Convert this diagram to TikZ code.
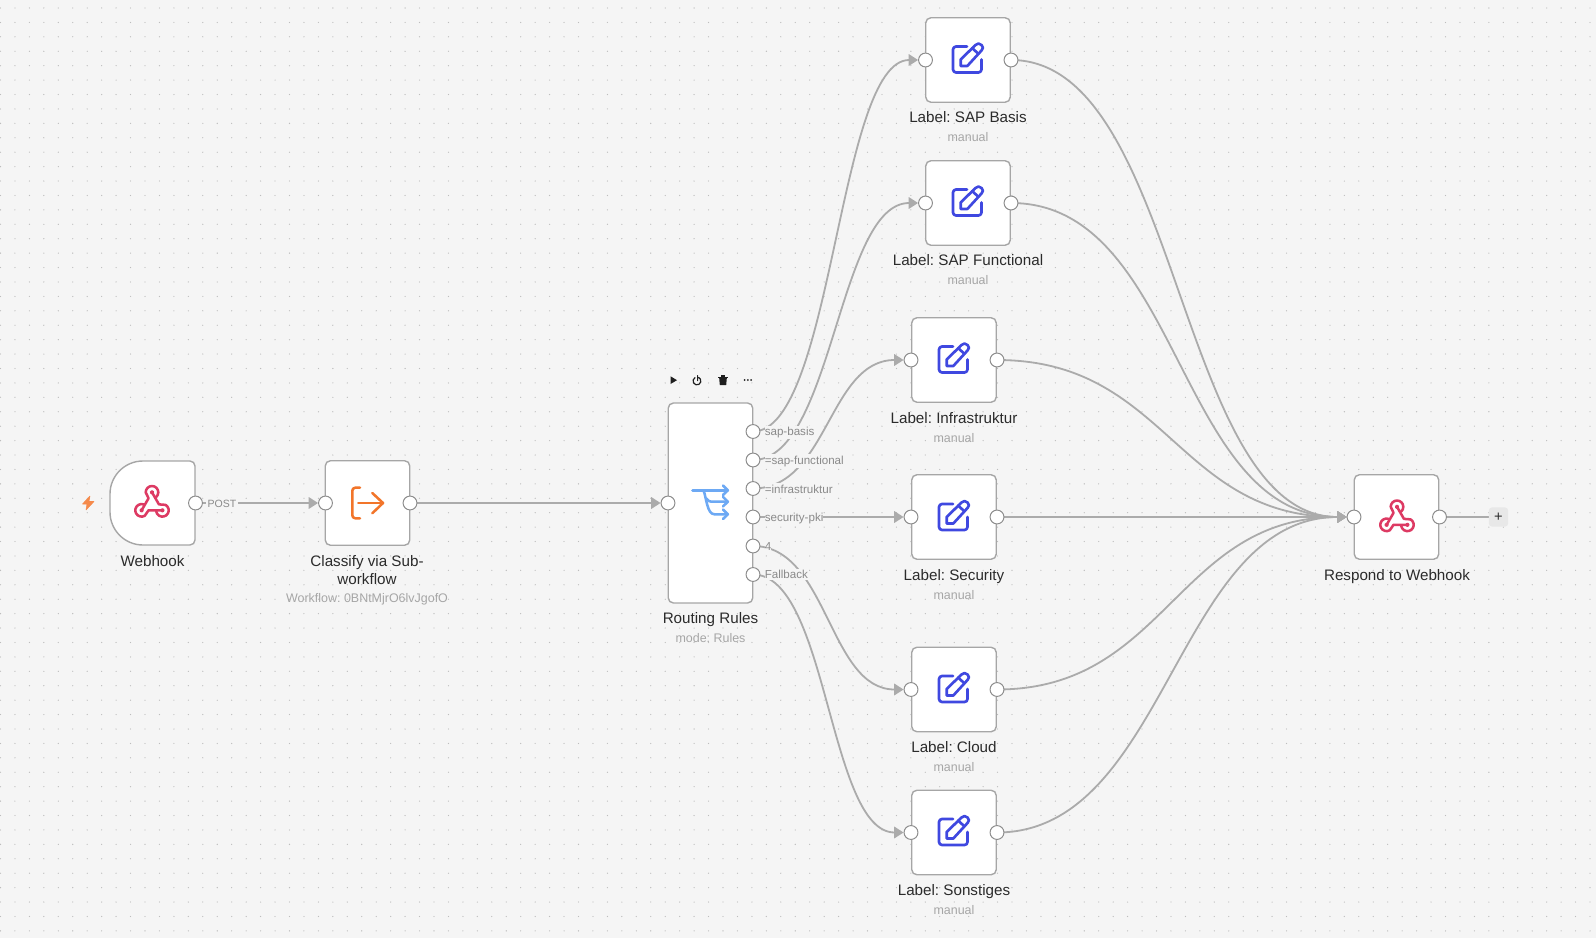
\documentclass[tikz,border=0pt]{standalone}
\usepackage{fontspec}
\setmainfont{Liberation Sans}
\usetikzlibrary{arrows.meta,backgrounds}
\pgfdeclarelayer{gridlayer}\pgfdeclarelayer{edgelayer}
\pgfsetlayers{gridlayer,edgelayer,main}
\definecolor{bgc}{HTML}{F5F5F5}
\definecolor{dotc}{HTML}{BDBDBD}
\definecolor{edgec}{HTML}{ABABAB}
\definecolor{borderc}{HTML}{A6A6A6}
\definecolor{portc}{HTML}{8E8E8E}
\definecolor{titlec}{HTML}{2B2B2B}
\definecolor{subc}{HTML}{A6A6A6}
\definecolor{plabc}{HTML}{8A8A8A}
\definecolor{pinkc}{HTML}{DD3A63}
\definecolor{bluec}{HTML}{3F48E0}
\definecolor{skyc}{HTML}{6DA9F4}
\definecolor{orangec}{HTML}{F2752A}
\definecolor{boltc}{HTML}{F58A4B}
\tikzset{
  box/.style={draw=borderc,fill=white,line width=1.05pt,rounded corners=3.9pt,minimum width=63.4pt,minimum height=63.4pt,inner sep=0pt},
  port/.style={circle,draw=portc,fill=white,line width=0.75pt,minimum size=10.4pt,inner sep=0pt},
  flow/.style={draw=edgec,line width=1.35pt,-{Triangle[length=7pt,width=8.6pt]}},
  plain/.style={draw=edgec,line width=1.35pt},
  title/.style={anchor=base,inner sep=0pt,text=titlec,font=\fontsize{11.4pt}{13.5pt}\selectfont,align=center},
  sub/.style={anchor=base,inner sep=0pt,text=subc,font=\fontsize{9.35pt}{11pt}\selectfont},
  plab/.style={anchor=base west,text=plabc,fill=bgc,inner xsep=0pt,inner ysep=1pt,font=\fontsize{8.7pt}{10pt}\selectfont},
  icon/.style={line width=1.9pt,line cap=round,line join=round,fill=none},
}
\newcommand{\hookstrand}{%
  \draw (10.4,6) -- (-3.5,6) -- (-7.25,11.46) arc[start angle=60,end angle=290,radius=6.3];
  \fill (10.4,6) circle[radius=2.1];}
\newcommand{\iconhook}[2]{\begin{scope}[shift={(#1,{#2+1.33})},pinkc,icon]
  \hookstrand
  \begin{scope}[rotate=120]\hookstrand\end{scope}
  \begin{scope}[rotate=240]\hookstrand\end{scope}
\end{scope}}
\newcommand{\iconedit}[2]{\begin{scope}[shift={(#1,#2)},bluec,icon,line width=2pt]
  \draw (-2,-13) -- (-13,-13) arc[start angle=270,end angle=180,radius=3] -- (-16,10) arc[start angle=180,end angle=90,radius=3] -- (9.5,13) arc[start angle=90,end angle=0,radius=3] -- (12.5,0);
  \draw (-8.3,6.5) -- (-8.3,0) -- (6.5,-14.5) .. controls (8.5,-16.5) and (10.5,-16.5) .. (12.5,-14.5) .. controls (14.5,-12.5) and (14.5,-11) .. (12.5,-9) -- (-1.7,6.5) -- cycle;
  \draw (3.2,-11.5) -- (9.5,-5.5);
\end{scope}}
\begin{document}
\frenchspacing
\begin{tikzpicture}[x=0.75pt,y=-0.75pt]
\useasboundingbox (0,0) rectangle (1596,938);
\begin{pgfonlayer}{gridlayer}
\fill[bgc] (0,0) rectangle (1596,938);
\foreach \i in {0,...,110}{
  \fill[dotc] \foreach \j in {0,...,64}{ ({0.5+14.45*\i},{8+14.42*\j}) circle[radius=0.65] };
}
\end{pgfonlayer}

% node boxes
\node[box,draw=none,fill=none] (webhook) at (152.5,503) {};
\draw[draw=borderc,fill=white,line width=1.05pt] (190,461) arc[start angle=270,end angle=360,radius=5] -- (195,540) arc[start angle=0,end angle=90,radius=5] -- (143,545) arc[start angle=90,end angle=180,radius=33] -- (110,494) arc[start angle=180,end angle=270,radius=33] -- cycle;
\node[box] (classify) at (367.5,503) {};
\node[box,minimum height=150pt] (router) at (710.5,503) {};
\node[box] (basis) at (968,60) {};
\node[box] (func) at (968,203) {};
\node[box] (infra) at (954,360) {};
\node[box] (secu) at (954,517) {};
\node[box] (cloud) at (954,689.5) {};
\node[box] (sonst) at (954,832.5) {};
\node[box] (respond) at (1396.5,517) {};

% ports
\node[port] (wo) at (195.5,503) {};
\node[port] (ci) at (325.5,503) {};
\node[port] (co) at (410,503) {};
\node[port] (ri) at (668,503) {};
\node[port] (r1) at (753,431.5) {};
\node[port] (r2) at (753,460) {};
\node[port] (r3) at (753,488.5) {};
\node[port] (r4) at (753,517) {};
\node[port] (r5) at (753,546) {};
\node[port] (r6) at (753,574.5) {};
\node[port] (bi) at (925.5,60) {};
\node[port] (bo) at (1011,60) {};
\node[port] (fi) at (925.5,203) {};
\node[port] (fo) at (1011,203) {};
\node[port] (ii) at (911,360) {};
\node[port] (io) at (997,360) {};
\node[port] (si) at (911,517) {};
\node[port] (so) at (997,517) {};
\node[port] (ki) at (911,689.5) {};
\node[port] (ko) at (997,689.5) {};
\node[port] (ti) at (911,832.5) {};
\node[port] (to) at (997,832.5) {};
\node[port] (pi) at (1354,517) {};
\node[port] (po) at (1439.5,517) {};
\node[fill=black!9,rounded corners=2.5pt,minimum size=14.5pt,inner sep=0pt,text=titlec,font=\fontsize{11pt}{12pt}\selectfont] (plus) at (1498.5,517) {+};

% connectors
\begin{pgfonlayer}{edgelayer}
\draw[flow] (wo.center) -- (ci.west);
\draw[flow] (co.center) -- (ri.west);
\draw[flow] (r1.center) .. controls +(80,0) and +(-80,0) .. (bi.west);
\draw[flow] (r2.center) .. controls +(80,0) and +(-80,0) .. (fi.west);
\draw[flow] (r3.center) .. controls +(75,0) and +(-75,0) .. (ii.west);
\draw[flow] (r4.center) -- (si.west);
\draw[flow] (r5.center) .. controls +(75,0) and +(-75,0) .. (ki.west);
\draw[flow] (r6.center) .. controls +(75,0) and +(-75,0) .. (ti.west);
\draw[flow] (bo.center) .. controls +(170,0) and +(-170,0) .. (pi.west);
\draw[flow] (fo.center) .. controls +(170,0) and +(-170,0) .. (pi.west);
\draw[flow] (io.center) .. controls +(170,0) and +(-170,0) .. (pi.west);
\draw[flow] (so.center) -- (pi.west);
\draw[flow] (ko.center) .. controls +(170,0) and +(-170,0) .. (pi.west);
\draw[flow] (to.center) .. controls +(170,0) and +(-170,0) .. (pi.west);
\draw[plain] (po.center) -- (plus.west);
\end{pgfonlayer}

% edge labels
\node[plab,inner xsep=1pt,font=\fontsize{7.9pt}{10pt}\selectfont] (lpost) at (206,507) {POST};
\node[plab] (l1) at (764.5,435.5) {sap-basis};
\node[plab] (l2) at (764.5,464) {=sap-functional};
\node[plab] (l3) at (764.5,493) {=infrastruktur};
\node[plab] (l4) at (764.5,521.5) {security-pki};
\node[plab] (l5) at (764.5,550) {4};
\node[plab] (l6) at (764.5,578.5) {Fallback};

% icons
\iconhook{152}{503}
\iconhook{1397}{517.5}
\iconedit{969}{59.5}
\iconedit{969}{202.5}
\iconedit{955}{359.5}
\iconedit{955}{517}
\iconedit{955}{689}
\iconedit{955}{832}
\begin{scope}[orangec,icon]
  \draw (360,487.7) -- (355.3,487.7) arc[start angle=270,end angle=180,radius=3] -- (352.3,515.3) arc[start angle=180,end angle=90,radius=3] -- (360,518.3);
  \draw (358.3,503) -- (383,503);
  \draw (372.3,493) -- (383,503) -- (372.3,513.3);
\end{scope}
\begin{scope}[shift={(710.5,503)},skyc,icon]
  \draw (-18,-12.7) -- (17.3,-12.7);
  \draw (-7,-12.7) .. controls (-4,-5) and (-3.5,11.3) .. (4,11.3) -- (17.3,11.3);
  \draw (-4.2,-4.5) .. controls (-3,-2) and (-1,-1.3) .. (3,-1.3) -- (17.3,-1.3);
  \draw (12.5,-17.5) -- (17.3,-12.7) -- (12.5,-8);
  \draw (12.5,-6.1) -- (17.3,-1.3) -- (12.5,3.4);
  \draw (12.5,6.5) -- (17.3,11.3) -- (12.5,16);
\end{scope}
\fill[boltc,line join=round,draw=boltc,line width=0.4pt] (90,496) -- (82.5,504) -- (87,504) -- (86,510) -- (94,501.5) -- (89,501.5) -- cycle;

% toolbar
\fill[black!88] (670.5,376.3) -- (677,380.2) -- (670.5,384) -- cycle;
\draw[black!88,line width=0.9pt,line cap=round] (695,377.6) arc[start angle=240,end angle=-60,radius=3.9] (697.6,375.6) -- (697.6,380.6);
\fill[black!88] (719.2,378.2) -- (726.8,378.2) -- (726.2,385) -- (719.8,385) -- cycle;
\fill[black!88] (718.3,376.6) rectangle (727.7,378);
\fill[black!88] (721,375.4) rectangle (725,376.8);
\fill[black!88] (744.5,380) circle[radius=1] (747.8,380) circle[radius=1] (751,380) circle[radius=1];

% texts
\node[title] (t1) at (152.5,566) {Webhook};
\node[title,anchor=center] (t2) at (367,570.5) {Classify via Sub-\\workflow};
\node[sub] (t2s) at (367,602.5) {Workflow: 0BNtMjrO6lvJgofO};
\node[title] (t3) at (710.5,623.3) {Routing Rules};
\node[sub] (t3s) at (710.5,642) {mode: Rules};
\node[title] (t4) at (968,122.3) {Label: SAP Basis};
\node[sub] (t4s) at (968,141.7) {manual};
\node[title] (t5) at (968,265.3) {Label: SAP Functional};
\node[sub] (t5s) at (968,284.7) {manual};
\node[title] (t6) at (954,423) {Label: Infrastruktur};
\node[sub] (t6s) at (954,442.4) {manual};
\node[title] (t7) at (954,580.3) {Label: Security};
\node[sub] (t7s) at (954,599.7) {manual};
\node[title] (t8) at (954,752.3) {Label: Cloud};
\node[sub] (t8s) at (954,771.7) {manual};
\node[title] (t9) at (954,895.3) {Label: Sonstiges};
\node[sub] (t9s) at (954,914.7) {manual};
\node[title] (t10) at (1397,580.3) {Respond to Webhook};
\end{tikzpicture}
\end{document}
